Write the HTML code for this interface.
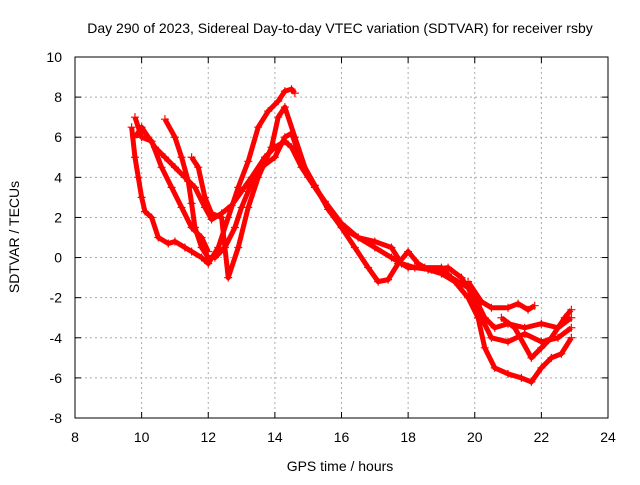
<!DOCTYPE html>
<html><head><meta charset="utf-8"><style>
body{margin:0;background:#fff;}
svg text{font-family:"Liberation Sans",sans-serif;font-size:14px;fill:#000;}
</style></head><body>
<svg id="chart" width="640" height="480" xmlns="http://www.w3.org/2000/svg">
<rect width="640" height="480" fill="#fff"/>
<text x="340" y="33" text-anchor="middle">Day 290 of 2023, Sidereal Day-to-day VTEC variation (SDTVAR) for receiver rsby</text>
<g id="grid"></g><g id="axes"></g><g id="series"></g>
<text x="340" y="471" text-anchor="middle">GPS time / hours</text>
<text transform="translate(19,237) rotate(-90)" text-anchor="middle">SDTVAR / TECUs</text>
</svg>
<script>
const xTicks=[8,10,12,14,16,18,20,22,24];
const yTicks=[-8,-6,-4,-2,0,2,4,6,8,10];
const track1=[[9.7,6.5],[9.8,5],[9.9,4],[10,3],[10.1,2.3],[10.3,2],[10.5,1],[10.8,0.7],[11,0.8],[11.3,0.5],[11.5,0.3],[11.8,0],[12,-0.3],[12.3,0.5],[12.6,2],[12.9,3.5],[13.2,4.8],[13.5,6.5],[13.8,7.3],[14.1,7.8],[14.3,8.3],[14.5,8.4],[14.6,8.2]];
const track2=[[9.8,6],[10,6.5],[10.2,6],[10.4,5.5],[10.7,5],[11,4.5],[11.3,4],[11.6,3.5],[11.9,2.5],[12.1,1.9],[12.4,2.2],[12.7,2.6],[13,3.3],[13.3,4],[13.7,5],[14,5.5],[14.3,5.8],[14.5,5.5],[14.8,4.5],[15.2,3.5],[15.6,2.5],[16,1.5],[16.4,0.5],[16.8,-0.5],[17.1,-1.2],[17.4,-1.1],[17.7,-0.3],[18,0.3],[18.3,-0.3],[18.6,-0.6],[19,-0.8],[19.4,-1.2],[19.8,-2],[20.1,-3],[20.3,-4.5],[20.6,-5.5],[21,-5.8],[21.4,-6],[21.7,-6.2],[22,-5.5],[22.3,-5],[22.6,-4.8],[22.9,-4]];
const track3=[[10.7,6.9],[11,6],[11.2,5],[11.4,3.8],[11.5,2.7],[11.6,1.5],[11.8,0.5],[12,0],[12.2,0],[12.5,0.5],[12.8,1.5],[13,2.5],[13.3,3.7],[13.6,4.5],[14,5],[14.3,6],[14.5,6.2],[14.8,4.8],[15.2,3.6],[15.6,2.4],[16,1.5],[16.5,1],[17,0.8],[17.5,0.5],[17.8,-0.3],[18.2,-0.5],[18.7,-0.6],[19.2,-0.5],[19.6,-1],[20,-2],[20.3,-3],[20.6,-3.5],[21,-3.3],[21.5,-3.5],[22,-3.3],[22.5,-3.5],[22.9,-3]];
const track4=[[11.5,5],[11.7,4.5],[11.9,3],[12.1,2.2],[12.4,2],[12.6,-1],[12.9,0.5],[13.2,2.5],[13.5,4],[13.9,5.5],[14.1,7],[14.3,7.5],[14.6,6],[15,4],[15.5,2.8],[16,1.7],[16.5,1],[17,0.5],[17.5,0],[18,-0.5],[18.5,-0.5],[19,-0.5],[19.3,-1],[19.8,-1.5],[20.2,-3],[20.5,-4],[21,-4.2],[21.5,-3.8],[22,-4.2],[22.5,-4],[22.9,-3.5]];
const track5=[[9.8,7],[10,6],[10.3,5.8],[10.6,4.5],[10.9,3.5],[11.2,2.5],[11.5,1.5],[11.8,1],[12,0.3]];
const track6=[[19.8,-1.2],[20.2,-2.2],[20.5,-2.5],[21,-2.5],[21.3,-2.3],[21.6,-2.6],[21.8,-2.4]];
const track7=[[20.8,-3],[21.2,-3.5],[21.7,-5],[22,-4.5],[22.3,-4],[22.7,-3],[22.9,-2.6]];
const tracks=[track1,track2,track3,track4,track5,track6,track7];
const X0=75,X1=608,Y0=418,Y1=57;
const xs=v=>X0+(v-8)/(24-8)*(X1-X0);
const ys=v=>Y0-(v+8)/(10+8)*(Y0-Y1);
const NS="http://www.w3.org/2000/svg";
function mk(t,a,p){const e=document.createElementNS(NS,t);for(const k in a)e.setAttribute(k,a[k]);p.appendChild(e);return e;}
const grid=document.getElementById('grid'),axes=document.getElementById('axes'),ser=document.getElementById('series');
xTicks.forEach(t=>{
  if(t>8&&t<24){const g=mk('line',{x1:xs(t),x2:xs(t),y1:Y1,y2:Y0,stroke:'#aaa','stroke-dasharray':'2,3','stroke-width':1},grid);
  
  }
  const l=mk('text',{x:xs(t),y:Y0+24,'text-anchor':'middle'},axes);l.textContent=t;
  
  
  mk('line',{x1:xs(t),x2:xs(t),y1:Y0,y2:Y0-6,stroke:'#000'},axes);
  mk('line',{x1:xs(t),x2:xs(t),y1:Y1,y2:Y1+6,stroke:'#000'},axes);
});
yTicks.forEach(t=>{
  if(t>-8&&t<10){const g=mk('line',{x1:X0,x2:X1,y1:ys(t),y2:ys(t),stroke:'#aaa','stroke-dasharray':'2,3','stroke-width':1},grid);
  
  }
  const l=mk('text',{x:X0-13,y:ys(t)+5,'text-anchor':'end'},axes);l.textContent=t;
  
  
  mk('line',{x1:X0,x2:X0+6,y1:ys(t),y2:ys(t),stroke:'#000'},axes);
  mk('line',{x1:X1,x2:X1-6,y1:ys(t),y2:ys(t),stroke:'#000'},axes);
});
const fr=mk('rect',{x:X0,y:Y1,width:X1-X0,height:Y0-Y1,fill:'none',stroke:'#000'},axes);


tracks.forEach(tr=>{
  const pts=tr.map(p=>xs(p[0])+','+ys(p[1])).join(' ');
  const pl=mk('polyline',{points:pts,fill:'none',stroke:'#f00','stroke-width':5,'stroke-linejoin':'round'},ser);
  
  
  tr.forEach(p=>{
    const x=xs(p[0]),y=ys(p[1]);
    const m=mk('path',{d:`M${x-4},${y}H${x+4}M${x},${y-4}V${y+4}`,stroke:'#f00','stroke-width':1.2},ser);
    
    
  });
});
</script>
</body></html>
